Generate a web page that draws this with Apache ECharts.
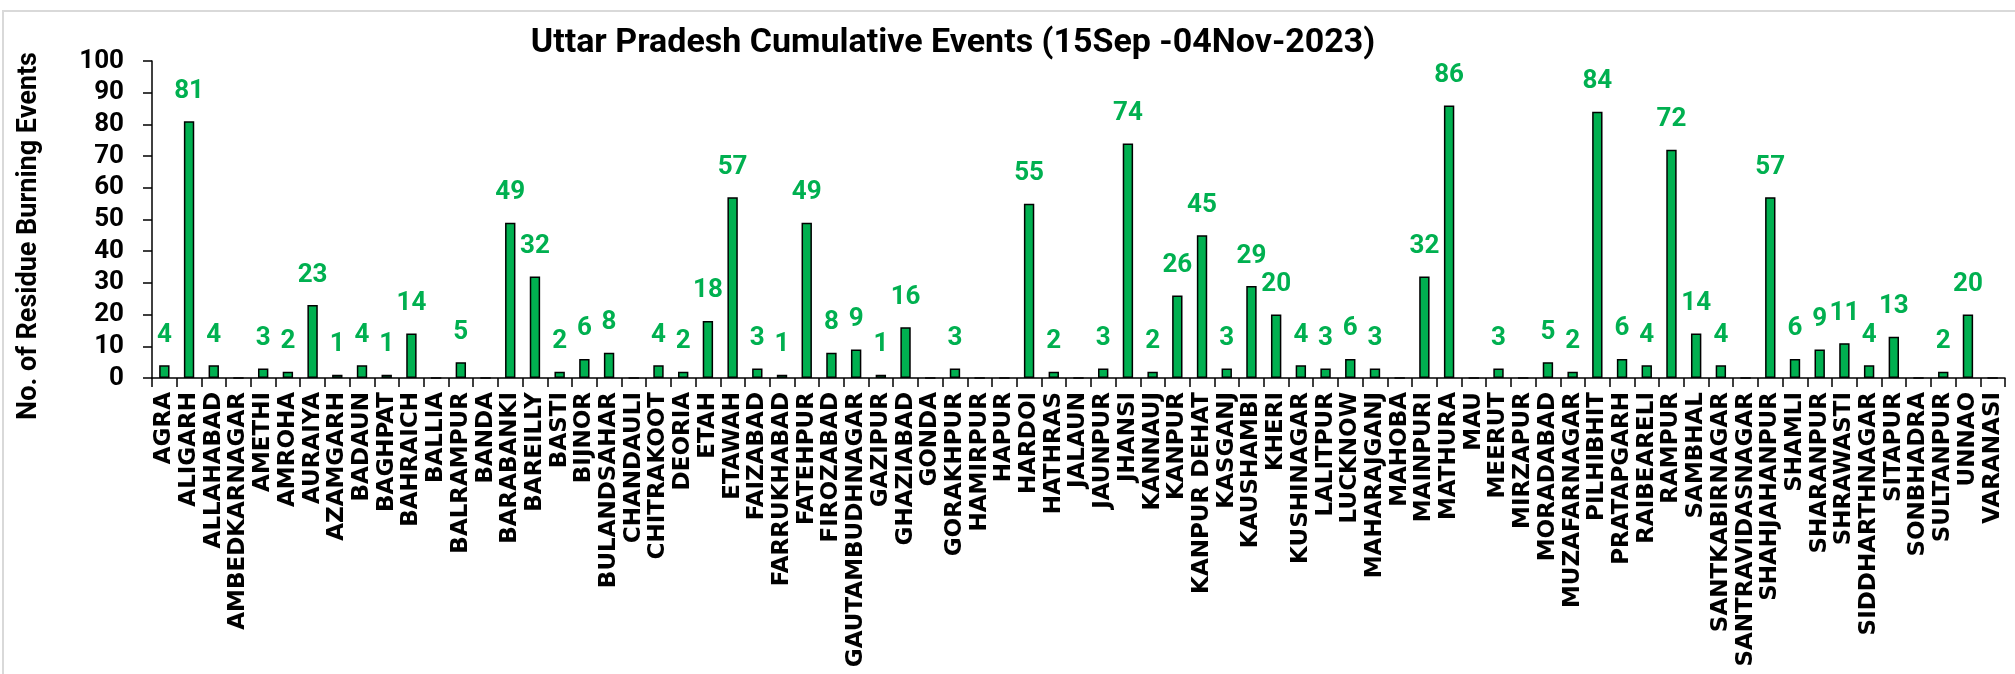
<!doctype html>
<html lang="en">
<head>
    <meta charset="UTF-8">
    <title>Uttar Pradesh Cumulative Events</title>
    <script src="https://cdn.jsdelivr.net/npm/echarts@6/dist/echarts.min.js"></script>
    <style>
        html, body { margin: 0; padding: 0; background: #fff; }
        #main { width: 2015px; height: 674px; }
    </style>
</head>
<body>
<div id="main"></div>
<script>
    // districts and cumulative counts
    var districts = ['AGRA', 'ALIGARH', 'ALLAHABAD', 'AMBEDKARNAGAR', 'AMETHI', 'AMROHA', 'AURAIYA', 'AZAMGARH',
        'BADAUN', 'BAGHPAT', 'BAHRAICH', 'BALLIA', 'BALRAMPUR', 'BANDA', 'BARABANKI', 'BAREILLY', 'BASTI',
        'BIJNOR', 'BULANDSAHAR', 'CHANDAULI', 'CHITRAKOOT', 'DEORIA', 'ETAH', 'ETAWAH', 'FAIZABAD',
        'FARRUKHABAD', 'FATEHPUR', 'FIROZABAD', 'GAUTAMBUDHNAGAR', 'GAZIPUR', 'GHAZIABAD', 'GONDA',
        'GORAKHPUR', 'HAMIRPUR', 'HAPUR', 'HARDOI', 'HATHRAS', 'JALAUN', 'JAUNPUR', 'JHANSI', 'KANNAUJ',
        'KANPUR', 'KANPUR DEHAT', 'KASGANJ', 'KAUSHAMBI', 'KHERI', 'KUSHINAGAR', 'LALITPUR', 'LUCKNOW',
        'MAHARAJGANJ', 'MAHOBA', 'MAINPURI', 'MATHURA', 'MAU', 'MEERUT', 'MIRZAPUR', 'MORADABAD',
        'MUZAFARNAGAR', 'PILHIBHIT', 'PRATAPGARH', 'RAIBEARELI', 'RAMPUR', 'SAMBHAL', 'SANTKABIRNAGAR',
        'SANTRAVIDASNAGAR', 'SHAHJAHANPUR', 'SHAMLI', 'SHARANPUR', 'SHRAWASTI', 'SIDDHARTHNAGAR',
        'SITAPUR', 'SONBHADRA', 'SULTANPUR', 'UNNAO', 'VARANASI'];

    var events = [4, 81, 4, 0, 3, 2, 23, 1,
        4, 1, 14, 0, 5, 0, 49, 32, 2,
        6, 8, 0, 4, 2, 18, 57, 3,
        1, 49, 8, 9, 1, 16, 0,
        3, 0, 0, 55, 2, 0, 3, 74, 2,
        26, 45, 3, 29, 20, 4, 3, 6,
        3, 0, 32, 86, 0, 3, 0, 5,
        2, 84, 6, 4, 72, 14, 4,
        0, 57, 6, 9, 11, 4,
        13, 0, 2, 20, 0];

    var yTicks = [0, 10, 20, 30, 40, 50, 60, 70, 80, 90, 100];

    var narrow = 'Roboto, sans-serif';
    var green = '#00B050';

    var myChart = echarts.init(document.getElementById('main'));
    var option = {
        animation: false,
        backgroundColor: '#fff',
        title: {
            text: 'Uttar Pradesh Cumulative Events (15Sep -04Nov-2023)',
            left: 948,
            top: 21,
            textAlign: 'center',
            textStyle: {
                fontFamily: narrow,
                fontSize: 34,
                fontWeight: 'bold',
                color: '#000'
            }
        },
        graphic: [
            {
                type: 'rect',
                shape: { x: 3, y: 11, width: 2030, height: 700 },
                style: { fill: 'none', stroke: '#D9D9D9', lineWidth: 2 },
                silent: true
            },
            {
                // y axis title, placed by hand like the excel original
                type: 'text',
                x: 29,
                y: 236,
                rotation: Math.PI / 2,
                style: {
                    text: 'No. of Residue Burning Events',
                    align: 'center',
                    verticalAlign: 'middle',
                    fill: '#000',
                    font: 'bold 27px Roboto, sans-serif'
                },
                silent: true
            }
        ],
        grid: {
            left: 152,
            right: 10,
            top: 61,
            bottom: 296,
            containLabel: false,
            outerBoundsMode: 'none'
        },
        xAxis: {
            type: 'category',
            data: districts,
            axisLine: { lineStyle: { color: '#000', width: 1.5 } },
            axisTick: { show: true, length: 9, lineStyle: { color: '#000', width: 1.5 } },
            axisLabel: {
                interval: 0,
                rotate: 90,
                margin: 14,
                color: '#000',
                fontFamily: 'DejaVu Sans',
                fontWeight: 'bold',
                fontSize: 23
            }
        },
        yAxis: {
            type: 'value',
            min: yTicks[0],
            max: yTicks[yTicks.length - 1],
            interval: 10,
            splitLine: { show: false },
            axisLine: { show: true, lineStyle: { color: '#000', width: 1.5 } },
            axisTick: { show: true, length: 9, lineStyle: { color: '#000', width: 1.5 } },
            axisLabel: {
                margin: 28,
                color: '#000',
                fontFamily: narrow,
                fontWeight: 'bold',
                fontSize: 26
            }
        },
        series: [
            {
                name: 'Events',
                type: 'bar',
                data: events,
                barWidth: '42%',
                itemStyle: {
                    color: green,
                    borderColor: '#000',
                    borderWidth: 1.5
                },
                label: {
                    show: true,
                    position: 'top',
                    distance: 17,
                    color: green,
                    fontFamily: narrow,
                    fontWeight: 'bold',
                    fontSize: 26,
                    formatter: function (p) {
                        return p.value > 0 ? p.value : '';
                    }
                }
            }
        ]
    };
    myChart.setOption(option);
</script>
</body>
</html>
